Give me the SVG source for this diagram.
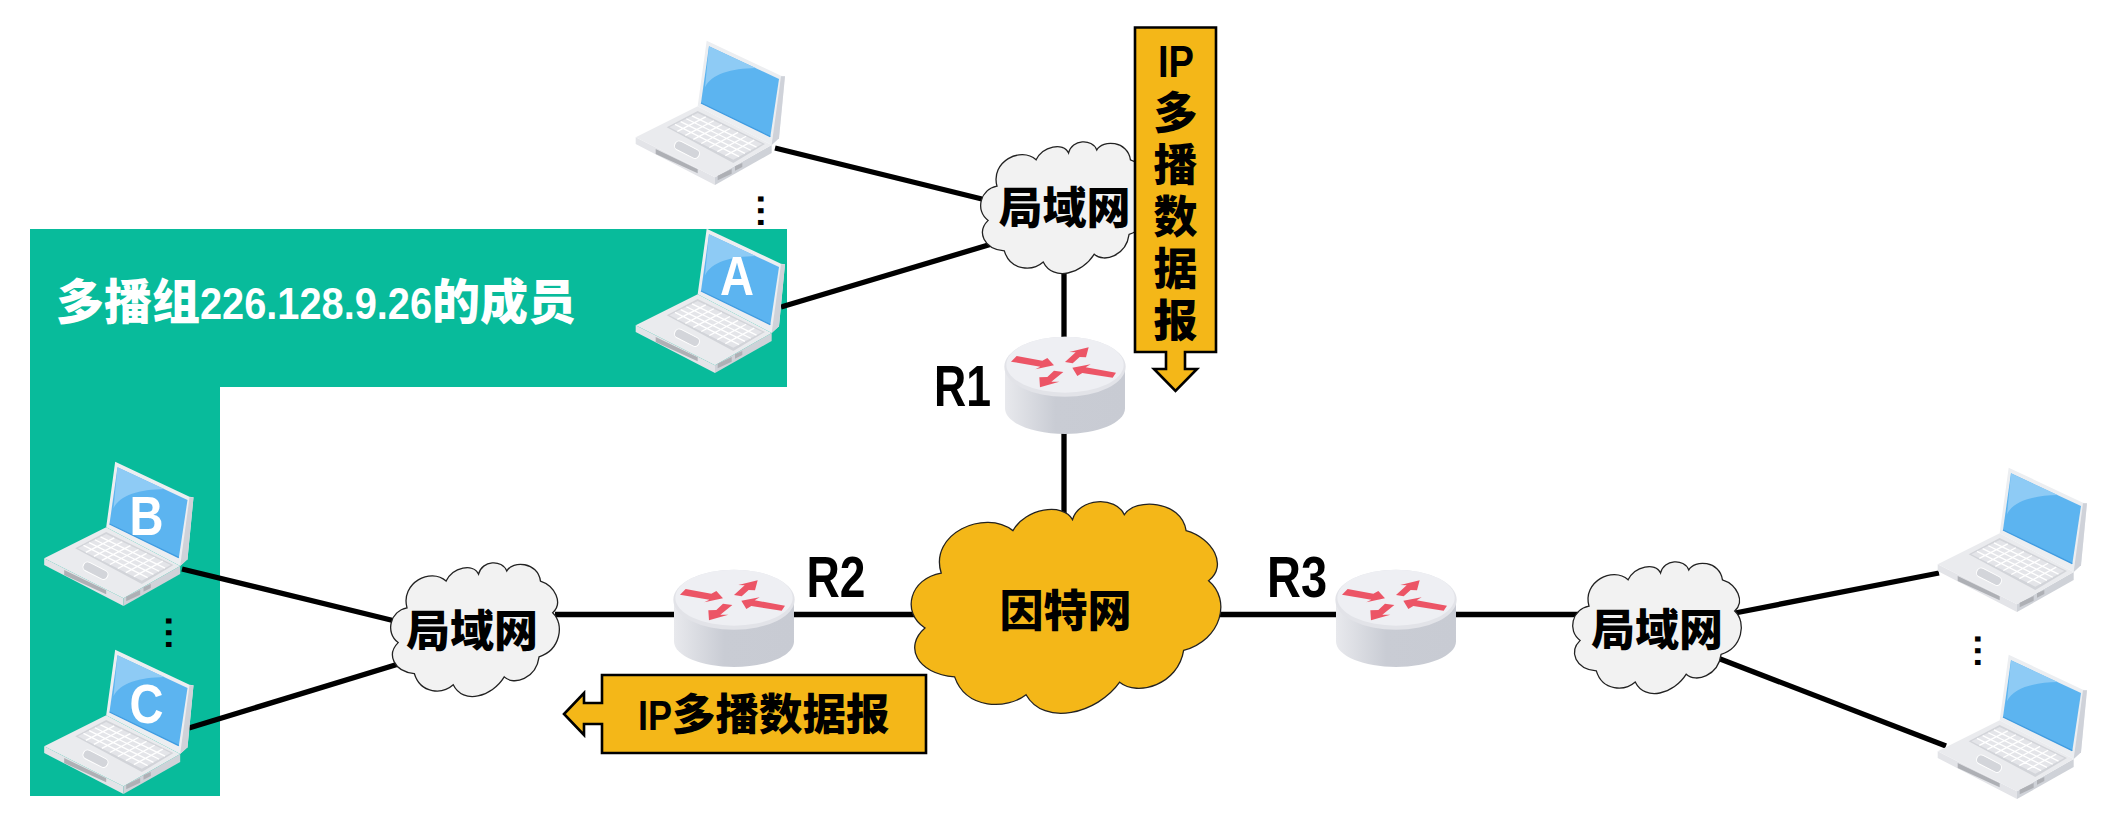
<svg xmlns="http://www.w3.org/2000/svg" xmlns:xlink="http://www.w3.org/1999/xlink" width="2114" height="837" viewBox="0 0 2114 837">
<style>
text{font-family:"Noto Sans CJK SC","Liberation Sans",sans-serif;font-weight:900;fill:#000;text-anchor:middle}
.lat{font-family:"Liberation Sans",sans-serif;font-weight:700}
.white{fill:#fff}
.cj{font-size:44px}
.rl{font-size:58px}
.hl{font-size:56px}
.dots{font-family:"Liberation Sans",sans-serif;font-weight:700;font-size:36px;letter-spacing:1.7px;text-anchor:start}
#cloudP{stroke:#222;stroke-width:1.3;vector-effect:non-scaling-stroke}
.lan{fill:#f2f2f2}
.net{fill:#f4b718}
.link{stroke:#000;stroke-width:5.3;fill:none}
.pk{fill:#f4b718;stroke:#000;stroke-width:2.6}
.red{fill:#ec5566}
</style>
<defs>
<linearGradient id="bodyG" x1="0" x2="1" y1="0" y2="0"><stop offset="0" stop-color="#e8e9ed"/><stop offset=".42" stop-color="#c9ccd4"/><stop offset="1" stop-color="#c8cbd3"/></linearGradient>
<path id="cloudP" d="M10,33.5C6,15 24,3 33,13.5C37,3 49,0 52.1,8.3C54,-2 66,-3 68.7,6C72,-2 87,-1 88.5,13.5C97,17 102,30 95.7,37.1C103,46 100,65 87.7,70C86,86 73,92 67.2,85C60,100 43,106 37.2,90.9C31,98 18,98 14.3,82.5C2,81 -2,68 4.8,59.4C-3,52 0,36 10,33.5Z"/>
<g id="laptop" transform="scale(.33333)">
<polygon points="32,325 270,445 270,468 32,345" fill="#e3e4e8"/>
<polygon points="270,445 440,348 440,372 270,468" fill="#cfd2d8"/>
<polygon points="32,325 218,232 440,348 270,445" fill="#eaebee"/>
<polygon points="125,295 218,246 420,345 325,402" fill="#d2d4d9"/>
<polygon points="133,295 218,252 412,345 325,392" fill="#e4e5e9"/>
<path d="M150,286.4L342.4,382.6M167,277.8L359.8,373.2M184,269.2L377.2,363.8M201,260.6L394.6,354.4M157,307.1L242.3,263.6M181,319.3L266.5,275.3M205,331.4L290.8,286.9M229,343.5L315,298.5M253,355.6L339.3,310.1M277,367.8L363.5,321.8M301,379.9L387.8,333.4" stroke="#fff" stroke-width="4" fill="none"/>
<rect x="-40" y="-14" width="80" height="28" rx="13" transform="translate(186,362) rotate(27)" fill="#d3d5da" stroke="#fff" stroke-width="3"/>
<polygon points="92,360 218,421 218,433 92,375" fill="#aeb0b5"/>
<polygon points="278,440 320,420 320,434 278,454" fill="#aeb0b5"/>
<polygon points="330,412 352,402 352,414 330,425" fill="#aeb0b5"/>
<polygon points="245,35 468,140 480,142 462,328 440,348 218,232" fill="#eceef1"/>
<polygon points="468,142 480,142 462,328 440,348" fill="#cfd2d9"/>
<polygon points="252,52 462,150 436,323 228,222" fill="#5cb4f0"/>
<path d="M252,52L392,117C320,118 258,135 240,175Z" fill="#8ecbf5"/>
<path d="M228,222L436,323" stroke="#3f9be0" stroke-width="4"/>
</g>
<g id="router" transform="scale(.33333)">
<path d="M45,115V235C45,280 130,312 225,312C320,312 405,280 405,235V115Z" fill="url(#bodyG)"/>
<ellipse cx="225" cy="110" rx="182" ry="90" fill="#e2e3e8"/>
<ellipse cx="225" cy="104" rx="176" ry="84" fill="#eeeff3"/>
<polygon class="red" points="63,95 80,78 157,92 172,84 192,106 136,118 151,110"/>
<polygon class="red" points="225,96 248,100 269,81 288,82 296,52 238,66 257,67"/>
<polygon class="red" points="192,122 220,126 184,155 208,155 150,172 148,142 172,141"/>
<polygon class="red" points="378,128 368,143 277,129 262,138 247,113 302,103 287,112"/>
</g>
</defs>
<rect width="2114" height="837" fill="#fff"/>
<g id="member-area">
<polygon points="30,229 787,229 787,387 220,387 220,796 30,796" fill="#08bb9b"/>
<text class="white" x="56" y="319" style="font-size:48px;text-anchor:start">多播组<tspan class="lat white" style="font-size:44px" textLength="232" lengthAdjust="spacingAndGlyphs">226.128.9.26</tspan>的成员</text>
</g>
<g id="connectors">
<path class="link" d="M775,148L990,201"/>
<path class="link" d="M781,307L995,243"/>
<path class="link" d="M1064,270V345"/>
<path class="link" d="M1064,425V515"/>
<path class="link" d="M182,569L395,621"/>
<path class="link" d="M189,728L405,662"/>
<path class="link" d="M555,614.5H680"/>
<path class="link" d="M790,614.5H920"/>
<path class="link" d="M1215,614.5H1340"/>
<path class="link" d="M1450,614.5H1580"/>
<path class="link" d="M1735,613L1939,573"/>
<path class="link" d="M1715,657L1946,746"/>
</g>
<g id="host-top"><use xlink:href="#laptop" href="#laptop" transform="translate(625,29)"/></g>
<g id="host-a"><use xlink:href="#laptop" href="#laptop" transform="translate(625,217)"/><text class="lat white hl" x="737" y="295" textLength="34" lengthAdjust="spacingAndGlyphs">A</text></g>
<g id="host-b"><use xlink:href="#laptop" href="#laptop" transform="translate(33.5,450)"/><text class="lat white hl" x="146.5" y="535" textLength="34" lengthAdjust="spacingAndGlyphs">B</text></g>
<g id="host-c"><use xlink:href="#laptop" href="#laptop" transform="translate(33.5,638)"/><text class="lat white hl" x="146.5" y="723" textLength="34" lengthAdjust="spacingAndGlyphs">C</text></g>
<g id="host-right-top"><use xlink:href="#laptop" href="#laptop" transform="translate(1927,456)"/></g>
<g id="host-right-bottom"><use xlink:href="#laptop" href="#laptop" transform="translate(1927,643)"/></g>
<g id="dots">
<text class="dots" transform="translate(757.5,194) rotate(90)">...</text>
<text class="dots" transform="translate(166,616) rotate(90)">...</text>
<text class="dots" transform="translate(1975,634) rotate(90)">...</text>
</g>
<g id="lan-top"><use xlink:href="#cloudP" href="#cloudP" class="lan" transform="translate(980,142) scale(1.7,1.32)"/><text class="cj" x="1064.5" y="224">局域网</text></g>
<g id="lan-left"><use xlink:href="#cloudP" href="#cloudP" class="lan" transform="translate(390,563) scale(1.7,1.34)"/><text class="cj" x="472" y="647">局域网</text></g>
<g id="lan-right"><use xlink:href="#cloudP" href="#cloudP" class="lan" transform="translate(1572,562) scale(1.7,1.32)"/><text class="cj" x="1657" y="646">局域网</text></g>
<g id="internet"><use xlink:href="#cloudP" href="#cloudP" class="net" transform="translate(910,502) scale(3.12,2.12)"/><text class="cj" x="1065.4" y="626.5">因特网</text></g>
<g id="r1"><use xlink:href="#router" href="#router" transform="translate(990,330)"/><text class="lat rl" x="962.5" y="406" textLength="57" lengthAdjust="spacingAndGlyphs">R1</text></g>
<g id="r2"><use xlink:href="#router" href="#router" transform="translate(659,563)"/><text class="lat rl" x="836" y="597" textLength="59" lengthAdjust="spacingAndGlyphs">R2</text></g>
<g id="r3"><use xlink:href="#router" href="#router" transform="translate(1321,563)"/><text class="lat rl" x="1297" y="597" textLength="60" lengthAdjust="spacingAndGlyphs">R3</text></g>
<g id="packet-down">
<polygon class="pk" points="1135,27.5 1216,27.5 1216,352 1185,352 1185,369 1197,369 1175.5,391 1154,369 1166,369 1166,352 1135,352"/>
<text class="lat" x="1176" y="76.5" style="font-size:44px" textLength="36" lengthAdjust="spacingAndGlyphs">IP</text>
<text class="cj" x="1175.5" y="90.5" style="writing-mode:vertical-rl;text-anchor:start;letter-spacing:8px">多播数据报</text>
</g>
<g id="packet-left">
<polygon class="pk" points="926,675 926,753 602,753 602,724 584,724 584,735 564,714 584,693 584,703 602,703 602,675"/>
<text x="638" y="730" style="font-size:43.5px;text-anchor:start"><tspan class="lat" style="font-size:43px" textLength="34" lengthAdjust="spacingAndGlyphs">IP</tspan>多播数据报</text>
</g>
</svg>
